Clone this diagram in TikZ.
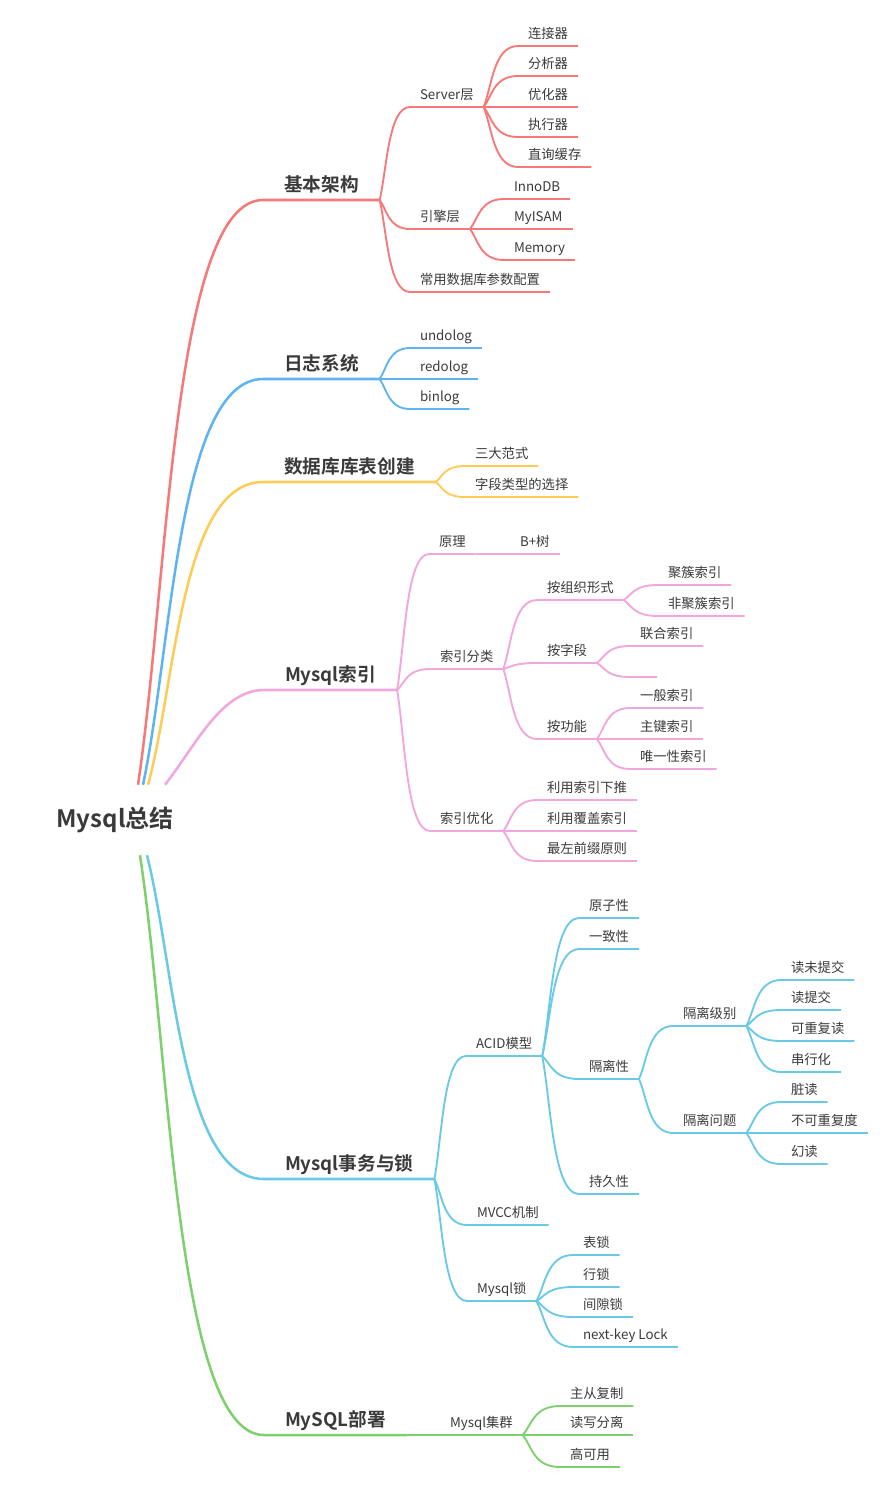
\documentclass[tikz,border=0pt]{standalone}
\usepackage{fontspec}
\setmainfont{Noto Sans CJK SC}[BoldFont={Noto Sans CJK SC Bold}]
\usetikzlibrary{calc}

\definecolor{cRed}{HTML}{F67878}
\definecolor{cBlue}{HTML}{5DB4F0}
\definecolor{cYel}{HTML}{FECB57}
\definecolor{cPink}{HTML}{F1A7DD}
\definecolor{cCyan}{HTML}{6ACAE6}
\definecolor{cGreen}{HTML}{7ED06F}
\definecolor{txt}{HTML}{3A3A3A}

\tikzset{
  leaf/.style={anchor=south west, inner xsep=7.5pt, inner ysep=3.6pt, outer sep=0pt,
    text height=0.8em, text depth=0.2em, text=txt, font=\fontsize{10}{12}\selectfont},
  main/.style={leaf, inner xsep=15.75pt, inner ysep=4.7pt, font=\fontsize{14}{16}\selectfont\bfseries},
  root/.style={inner sep=0pt, minimum height=52.5pt, text=txt, font=\fontsize{18}{22}\selectfont\bfseries},
  trunk/.style={line width=1.9pt},
  sub/.style={line width=1.4pt},
  branch/.style={to path={let \p1=(\tikztostart), \p2=(\tikztotarget) in
    .. controls ({\x1+0.24*(\x2-\x1)},{\y1+0.34*(\y2-\y1)}) and ({\x1+0.29*(\x2-\x1)},\y2) .. (\tikztotarget)}},
}

\begin{document}
\begin{tikzpicture}[x=0.75pt, y=-0.75pt]
\useasboundingbox (0,0) rectangle (889,1488);

\node[root] (root) at (115,820) {Mysql总结};

% 基本架构
\node[main] (jb) at (263,200) {基本架构};
\node[leaf] (sv) at (410,107) {Server层};
\node[leaf] (ljq) at (518,46) {连接器};
\node[leaf] (fxq) at (518,76) {分析器};
\node[leaf] (yhq) at (518,107) {优化器};
\node[leaf] (zxq) at (518,137) {执行器};
\node[leaf] (hc) at (518,167) {直询缓存};
\node[leaf] (yq) at (410,229) {引擎层};
\node[leaf] (inno) at (504,199) {InnoDB};
\node[leaf] (myi) at (504,229) {MyISAM};
\node[leaf] (mem) at (504,260) {Memory};
\node[leaf] (cy) at (410,292) {常用数据库参数配置};

% 日志系统
\node[main] (rz) at (263,379) {日志系统};
\node[leaf] (undo) at (410,348) {undolog};
\node[leaf] (redo) at (410,379) {redolog};
\node[leaf] (bin) at (410,409) {binlog};

% 数据库库表创建
\node[main] (sj) at (263,482) {数据库库表创建};
\node[leaf] (sd) at (465,466) {三大范式};
\node[leaf] (zdlx) at (465,497) {字段类型的选择};

% Mysql索引
\node[main] (sy) at (264,690) {Mysql索引};
\node[leaf] (yl) at (429,554) {原理};
\node[leaf] (bt) at (510,554) {B+树};
\node[leaf] (fl) at (430,669) {索引分类};
\node[leaf] (zz) at (537,600) {按组织形式};
\node[leaf] (jc) at (658,585) {聚簇索引};
\node[leaf] (fjc) at (658,616) {非聚簇索引};
\node[leaf] (azd) at (537,663) {按字段};
\node[leaf] (lh) at (630,646) {联合索引};
\node[leaf, minimum width=20.25pt] (kb) at (630,677) {};
\node[leaf] (agn) at (537,739) {按功能};
\node[leaf] (yb) at (630,708) {一般索引};
\node[leaf] (zj) at (630,739) {主键索引};
\node[leaf] (wy) at (630,769) {唯一性索引};
\node[leaf] (yh) at (430,831) {索引优化};
\node[leaf] (xt) at (537,800) {利用索引下推};
\node[leaf] (fg) at (537,831) {利用覆盖索引};
\node[leaf] (zzqz) at (537,861) {最左前缀原则};

% Mysql事务与锁
\node[main] (sw) at (264,1179) {Mysql事务与锁};
\node[leaf] (acid) at (466,1056) {ACID模型};
\node[leaf] (yzx) at (579,918) {原子性};
\node[leaf] (yzh) at (579,949) {一致性};
\node[leaf] (glx) at (579,1079) {隔离性};
\node[leaf] (gljb) at (673,1026) {隔离级别};
\node[leaf] (dwtj) at (781,980) {读未提交};
\node[leaf] (dtj) at (781,1010) {读提交};
\node[leaf] (kcfd) at (781,1041) {可重复读};
\node[leaf] (cxh) at (781,1072) {串行化};
\node[leaf] (glwt) at (673,1133) {隔离问题};
\node[leaf] (zdu) at (781,1102) {脏读};
\node[leaf] (bkcf) at (781,1133) {不可重复度};
\node[leaf] (hdu) at (781,1164) {幻读};
\node[leaf] (cjx) at (579,1194) {持久性};
\node[leaf] (mvcc) at (467,1225) {MVCC机制};
\node[leaf] (msl) at (467,1301) {Mysql锁};
\node[leaf] (bsu) at (573,1255) {表锁};
\node[leaf] (hsu) at (573,1287) {行锁};
\node[leaf] (jxs) at (573,1317) {间隙锁};
\node[leaf] (nkl) at (573,1347) {next-key Lock};

% MySQL部署
\node[main] (bsh) at (264,1435) {MySQL部署};
\node[leaf] (jq) at (440,1435) {Mysql集群};
\node[leaf] (zcfz) at (560,1406) {主从复制};
\node[leaf] (dxfl) at (560,1435) {读写分离};
\node[leaf] (gky) at (560,1467) {高可用};

% trunks out of the root
\draw[trunk, cRed] ($(root.north)+(23,0)$) .. controls +(30,-200) and +(-90,0) .. (jb.south west) -- (jb.south east);
\draw[trunk, cBlue] ($(root.north)+(28,0)$) .. controls +(29,-137) and +(-85,0) .. (rz.south west) -- (rz.south east);
\draw[trunk, cYel] ($(root.north)+(33,0)$) .. controls +(28,-102) and +(-82,0) .. (sj.south west) -- (sj.south east);
\draw[trunk, cPink] ($(root.north)+(50,0)$) .. controls +(30,-38) and +(-43,0) .. (sy.south west) -- (sy.south east);
\draw[trunk, cCyan] ($(root.south)+(32,0)$) .. controls +(28,111) and +(-83,0) .. (sw.south west) -- (sw.south east);
\draw[trunk, cGreen] ($(root.south)+(25,0)$) .. controls +(30,198) and +(-88,0) .. (bsh.south west) -- (bsh.south east);

\begin{scope}[sub, cRed]
  \draw (jb.south east) to[branch] (sv.south west) -- (sv.south east);
  \draw (jb.south east) to[branch] (yq.south west) -- (yq.south east);
  \draw (jb.south east) to[branch] (cy.south west) -- (cy.south east);
  \foreach \nd in {ljq, fxq, yhq, zxq, hc}
    \draw (sv.south east) to[branch] (\nd.south west) -- (\nd.south east);
  \foreach \nd in {inno, myi, mem}
    \draw (yq.south east) to[branch] (\nd.south west) -- (\nd.south east);
\end{scope}

\begin{scope}[sub, cBlue]
  \foreach \nd in {undo, redo, bin}
    \draw (rz.south east) to[branch] (\nd.south west) -- (\nd.south east);
\end{scope}

\begin{scope}[sub, cYel]
  \foreach \nd in {sd, zdlx}
    \draw (sj.south east) to[branch] (\nd.south west) -- (\nd.south east);
\end{scope}

\begin{scope}[sub, cPink]
  \foreach \nd in {yl, fl, yh}
    \draw (sy.south east) to[branch] (\nd.south west) -- (\nd.south east);
  \draw (yl.south east) -- (bt.south west) -- (bt.south east);
  \foreach \nd in {zz, azd, agn}
    \draw (fl.south east) to[branch] (\nd.south west) -- (\nd.south east);
  \foreach \nd in {jc, fjc}
    \draw (zz.south east) to[branch] (\nd.south west) -- (\nd.south east);
  \foreach \nd in {lh, kb}
    \draw (azd.south east) to[branch] (\nd.south west) -- (\nd.south east);
  \foreach \nd in {yb, zj, wy}
    \draw (agn.south east) to[branch] (\nd.south west) -- (\nd.south east);
  \foreach \nd in {xt, fg, zzqz}
    \draw (yh.south east) to[branch] (\nd.south west) -- (\nd.south east);
\end{scope}

\begin{scope}[sub, cCyan]
  \foreach \nd in {acid, mvcc, msl}
    \draw (sw.south east) to[branch] (\nd.south west) -- (\nd.south east);
  \foreach \nd in {yzx, yzh, glx, cjx}
    \draw (acid.south east) to[branch] (\nd.south west) -- (\nd.south east);
  \foreach \nd in {gljb, glwt}
    \draw (glx.south east) to[branch] (\nd.south west) -- (\nd.south east);
  \foreach \nd in {dwtj, dtj, kcfd, cxh}
    \draw (gljb.south east) to[branch] (\nd.south west) -- (\nd.south east);
  \foreach \nd in {zdu, bkcf, hdu}
    \draw (glwt.south east) to[branch] (\nd.south west) -- (\nd.south east);
  \foreach \nd in {bsu, hsu, jxs, nkl}
    \draw (msl.south east) to[branch] (\nd.south west) -- (\nd.south east);
\end{scope}

\begin{scope}[sub, cGreen]
  \draw (bsh.south east) -- (jq.south west) -- (jq.south east);
  \foreach \nd in {zcfz, dxfl, gky}
    \draw (jq.south east) to[branch] (\nd.south west) -- (\nd.south east);
\end{scope}
\end{tikzpicture}
\end{document}
